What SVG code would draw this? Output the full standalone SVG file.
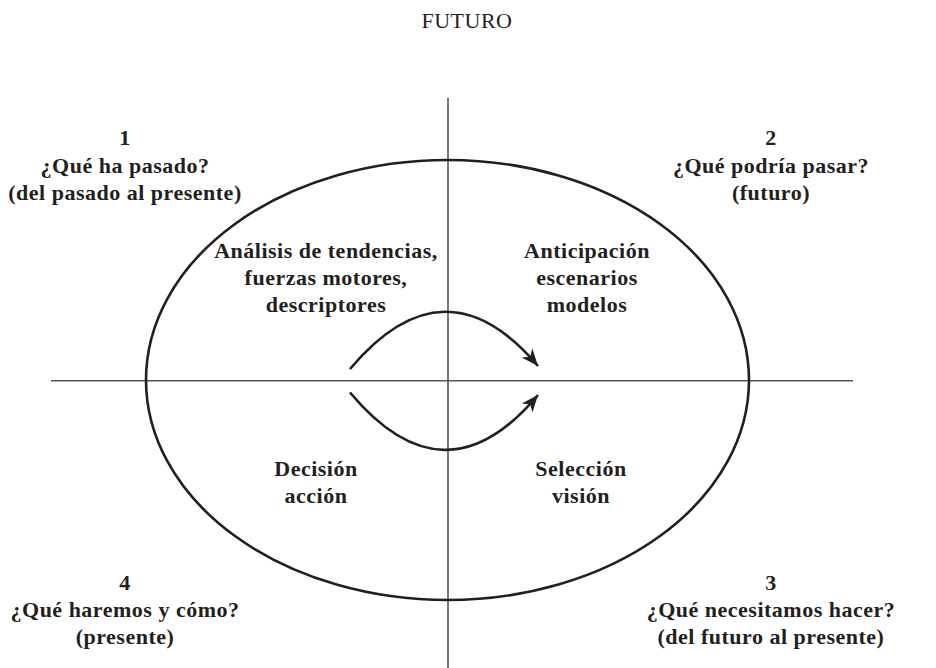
<svg xmlns="http://www.w3.org/2000/svg" width="936" height="668" viewBox="0 0 936 668">
  <defs>
    <style>
      text { font-family: "Liberation Serif", "Times New Roman", serif; font-weight: bold; font-size: 22px; letter-spacing: 0.5px; fill: #231f20; text-anchor: middle; }
      .title { font-weight: normal; }
      .axis { stroke: #555; stroke-width: 1.6; fill: none; }
      .ell { stroke: #231f20; stroke-width: 2.6; fill: none; }
      .arc { stroke: #231f20; stroke-width: 2.7; fill: none; }
    </style>
    <marker id="ah" markerUnits="userSpaceOnUse" markerWidth="20" markerHeight="16" viewBox="-18 -8 20 16" refX="0" refY="0" orient="auto">
      <path d="M0,0 L-17,-7 L-12,0 L-17,7 Z" fill="#231f20"/>
    </marker>
  </defs>
  <rect width="936" height="668" fill="#fff"/>

  <g id="title"><text class="title" x="467" y="28">FUTURO</text></g>

  <g id="axes">
    <line class="axis" x1="448" y1="98" x2="448" y2="668"/>
    <line class="axis" x1="51" y1="380.7" x2="853" y2="380.7"/>
  </g>

  <g id="cycle"><ellipse class="ell" cx="447.5" cy="380" rx="301.5" ry="220"/></g>

  <g id="connectors">
    <path class="arc" d="M350,369 Q445,256 538,366" marker-end="url(#ah)"/>
    <path class="arc" d="M350,392.5 Q445,506 538,395" marker-end="url(#ah)"/>
  </g>

  <g id="q1">
    <text x="125" y="145">1</text>
    <text x="125" y="173">¿Qué ha pasado?</text>
    <text x="125" y="200">(del pasado al presente)</text>
  </g>
  <g id="q2">
    <text x="771" y="145">2</text>
    <text x="771" y="173">¿Qué podría pasar?</text>
    <text x="771" y="200">(futuro)</text>
  </g>
  <g id="q3">
    <text x="771" y="590">3</text>
    <text x="771" y="617">¿Qué necesitamos hacer?</text>
    <text x="771" y="644">(del futuro al presente)</text>
  </g>
  <g id="q4">
    <text x="125" y="590">4</text>
    <text x="125" y="617">¿Qué haremos y cómo?</text>
    <text x="125" y="644">(presente)</text>
  </g>

  <g id="inner1">
    <text x="326" y="258">Análisis de tendencias,</text>
    <text x="326" y="285">fuerzas motores,</text>
    <text x="326" y="312">descriptores</text>
  </g>
  <g id="inner2">
    <text x="587" y="258">Anticipación</text>
    <text x="587" y="285">escenarios</text>
    <text x="587" y="312">modelos</text>
  </g>
  <g id="inner3">
    <text x="316" y="476">Decisión</text>
    <text x="316" y="503">acción</text>
  </g>
  <g id="inner4">
    <text x="581" y="476">Selección</text>
    <text x="581" y="503">visión</text>
  </g>
</svg>
